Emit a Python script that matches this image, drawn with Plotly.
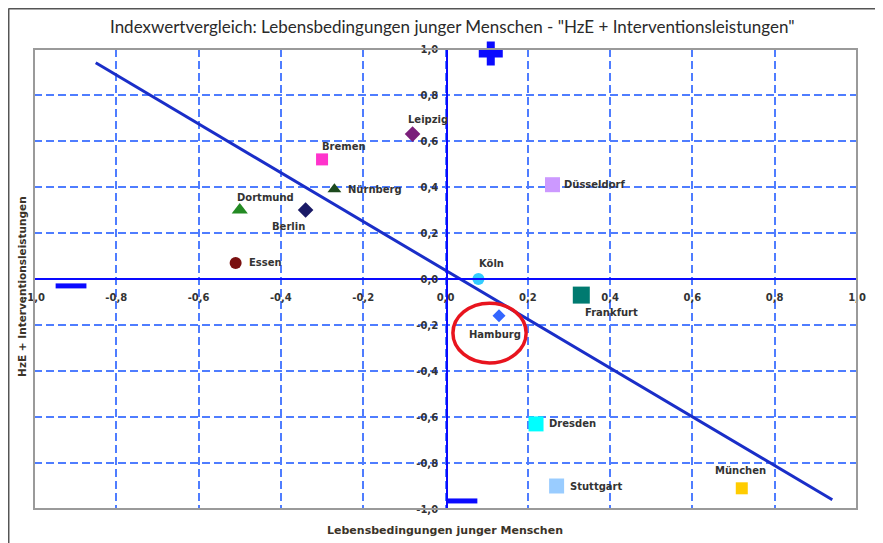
import plotly.graph_objects as go

# ---------------- data ----------------
cities = ["Leipzig", "Bremen", "Nürnberg", "Dortmund", "Berlin", "Essen", "Düsseldorf",
          "Köln", "Frankfurt", "Hamburg", "Dresden", "Stuttgart", "München"]
x_vals = [-0.08, -0.30, -0.27, -0.50, -0.34, -0.51, 0.26, 0.08, 0.33, 0.13, 0.22, 0.27, 0.72]
y_vals = [0.63, 0.52, 0.39, 0.30, 0.30, 0.07, 0.41, 0.00, -0.07, -0.16, -0.63, -0.90, -0.91]

trend_x = [-0.85, 0.94]
trend_y = [0.94, -0.96]

plus_x = [0.11, 1.055]
plus_y = [0.98, 0.09]
minus_x = [-0.91, 0.04]
minus_y = [-0.03, -0.965]

tick_vals = [-1.0, -0.8, -0.6, -0.4, -0.2, 0.0, 0.2, 0.4, 0.6, 0.8, 1.0]
tick_text = ["-1,0", "-0,8", "-0,6", "-0,4", "-0,2", "0,0", "0,2", "0,4", "0,6", "0,8", "1,0"]

# ---------------- styles ----------------
styles = {
    "Leipzig":    dict(symbol="diamond", color="#7b1e7a", size=12, ax=15, ay=-15, xanchor="center"),
    "Bremen":     dict(symbol="square", color="#ff33cc", size=12, ax=-2, ay=-13, xanchor="left"),
    "Nürnberg":   dict(symbol="triangle-up", color="#1d4a1d", size=12, ax=12, ay=0, xanchor="left"),
    "Dortmund":   dict(symbol="triangle-up", color="#238a23", size=14, ax=26, ay=-13, xanchor="center"),
    "Berlin":     dict(symbol="diamond", color="#1a1a66", size=12, ax=-17, ay=16, xanchor="center"),
    "Essen":      dict(symbol="circle", color="#7a1010", size=12, ax=11, ay=0, xanchor="left"),
    "Düsseldorf": dict(symbol="square", color="#cc99ff", size=15, ax=10, ay=0, xanchor="left"),
    "Köln":       dict(symbol="circle", color="#33ccff", size=12, ax=13, ay=-16, xanchor="center"),
    "Frankfurt":  dict(symbol="square", color="#007a70", size=17, ax=2, ay=17, xanchor="left"),
    "Hamburg":    dict(symbol="diamond", color="#3366ff", size=10, ax=-4, ay=19, xanchor="center"),
    "Dresden":    dict(symbol="square", color="#00ffff", size=15, ax=11, ay=0, xanchor="left"),
    "Stuttgart":  dict(symbol="square", color="#99ccff", size=15, ax=11, ay=0, xanchor="left"),
    "München":    dict(symbol="square", color="#ffcc00", size=12, ax=-1, ay=-18, xanchor="center"),
}

BLUE = "#0a0aff"
GRID = "#4f7dff"
LBL_FONT = dict(family="DejaVu Sans", size=10, color="#333333", weight="bold")

fig = go.Figure()

# trend line
fig.add_trace(go.Scatter(x=trend_x, y=trend_y, mode="lines",
                         line=dict(color="#1a2ec8", width=3), showlegend=False,
                         hoverinfo="skip"))

# city markers + labels
for c, xv, yv in zip(cities, x_vals, y_vals):
    s = styles[c]
    fig.add_trace(go.Scatter(x=[xv], y=[yv], mode="markers", name=c,
                             marker=dict(symbol=s["symbol"], color=s["color"], size=s["size"],
                                         line=dict(width=0)),
                             showlegend=False))
    fig.add_annotation(x=xv, y=yv, text=c, showarrow=False, xshift=s["ax"], yshift=-s["ay"],
                       xanchor=s["xanchor"], yanchor="middle", font=LBL_FONT)

# plus / minus decorations
fig.add_trace(go.Scatter(x=plus_x, y=plus_y, mode="markers", cliponaxis=False,
                         marker=dict(symbol="cross", size=20, color=BLUE, line=dict(width=0)),
                         showlegend=False, hoverinfo="skip"))
fig.add_trace(go.Scatter(x=minus_x, y=minus_y, mode="markers", cliponaxis=False,
                         marker=dict(symbol="line-ew", size=22, color=BLUE,
                                     line=dict(width=5, color=BLUE)),
                         showlegend=False, hoverinfo="skip"))

# red circle around Hamburg
fig.add_shape(type="circle", xref="x", yref="y", x0=0.018, x1=0.196, y0=-0.365, y1=-0.105,
              line=dict(color="#e8141e", width=3.5))

# plot border
fig.add_shape(type="rect", xref="paper", yref="paper", x0=0, x1=1, y0=0, y1=1,
              line=dict(color="#9a9a9a", width=2), layer="above")
# outer frame (top and left)
fig.add_shape(type="line", xref="paper", yref="paper", x0=-0.031, x1=1.2, y0=1.088, y1=1.088,
              line=dict(color="#555555", width=2))
fig.add_shape(type="line", xref="paper", yref="paper", x0=-0.031, x1=-0.031, y0=-0.2, y1=1.088,
              line=dict(color="#555555", width=2))

axis_common = dict(range=[-1, 1], tickvals=tick_vals, ticktext=tick_text,
                   showgrid=True, gridcolor=GRID, griddash="8px,4px", gridwidth=1.5,
                   zeroline=False, showline=True, linecolor=BLUE, linewidth=2,
                   ticks="outside", tickcolor="rgba(0,0,0,0)", fixedrange=True,
                   tickfont=dict(family="DejaVu Sans", size=10, color="#333333", weight="bold"))

fig.update_layout(
    width=875, height=535,
    margin=dict(l=26, r=26, t=41, b=34),
    paper_bgcolor="white", plot_bgcolor="white",
    xaxis=dict(anchor="free", position=0.5, side="bottom", ticklen=9, **axis_common),
    yaxis=dict(anchor="free", position=0.502, side="left", ticklen=6, **axis_common),
)

fig.add_annotation(text='Indexwertvergleich: Lebensbedingungen junger Menschen - "HzE + Interventionsleistungen"',
                   xref="paper", yref="paper", x=0.509, y=1.048, xanchor="center", yanchor="middle",
                   showarrow=False, font=dict(family="Lato", size=17, color="#2a2a2a"))
fig.add_annotation(text="Lebensbedingungen junger Menschen", xref="paper", yref="paper",
                   x=0.4994, y=-0.0457, xanchor="center", yanchor="middle", showarrow=False,
                   font=dict(family="DejaVu Sans", size=11, color="#3b3328", weight="bold"))
fig.add_annotation(text="HzE + Interventionsleistungen", xref="paper", yref="paper",
                   x=-0.0146, y=0.485, xanchor="center", yanchor="middle", showarrow=False,
                   textangle=-90,
                   font=dict(family="DejaVu Sans", size=10.5, color="#3b3328", weight="bold"))

fig.write_html("out.html")
